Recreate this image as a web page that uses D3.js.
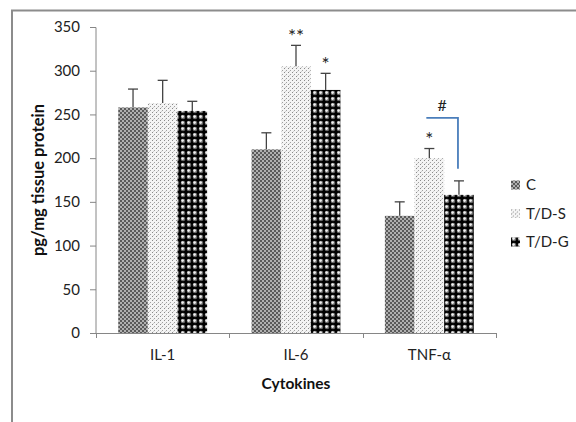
<!DOCTYPE html>
<html><head><meta charset="utf-8">
<script src="https://cdn.jsdelivr.net/npm/d3@7"></script>
<style>body{margin:0;background:#fff}svg{display:block}text{font-family:Lato,"Open Sans",sans-serif}</style>
</head><body><svg id="c" width="576" height="422"></svg>
<script>
const categories = ["IL-1", "IL-6", "TNF-α"];
const seriesNames = ["C", "T/D-S", "T/D-G"];
const valuesC   = [258, 210, 134];
const errorsC   = [21, 19, 16];
const valuesTDS = [263, 305, 200];
const errorsTDS = [26, 24, 11];
const valuesTDG = [254, 278, 158];
const errorsTDG = [11, 19, 16];
const yTicks = [0, 50, 100, 150, 200, 250, 300, 350];
const stars = [
  {cat: "IL-6", s: "T/D-S", text: "**"},
  {cat: "IL-6", s: "T/D-G", text: "*"},
  {cat: "TNF-α", s: "T/D-S", text: "*"}
];
const bracket = {cat: "TNF-α", from: "T/D-S", to: "T/D-G", level: 246, label: "#"};

const seriesVals = {"C": valuesC, "T/D-S": valuesTDS, "T/D-G": valuesTDG};
const seriesErr = {"C": errorsC, "T/D-S": errorsTDS, "T/D-G": errorsTDG};

const svg = d3.select("#c");
const defs = svg.append("defs");
const pC = defs.append("pattern").attr("id","pC").attr("patternUnits","userSpaceOnUse").attr("width",4).attr("height",4);
pC.append("rect").attr("width",4).attr("height",4).attr("fill","#b0b0b0");
pC.append("rect").attr("width",2).attr("height",2).attr("fill","#5a5a5a");
pC.append("rect").attr("x",2).attr("y",2).attr("width",2).attr("height",2).attr("fill","#5a5a5a");
const pS = defs.append("pattern").attr("id","pS").attr("patternUnits","userSpaceOnUse").attr("width",4).attr("height",4);
pS.append("rect").attr("width",4).attr("height",4).attr("fill","#f4f4f4");
pS.append("rect").attr("x",0).attr("y",0).attr("width",1).attr("height",1).attr("fill","#8a8a8a");
pS.append("rect").attr("x",2).attr("y",2).attr("width",1).attr("height",1).attr("fill","#a0a0a0");
pS.append("rect").attr("x",1).attr("y",3).attr("width",1).attr("height",1).attr("fill","#d0d0d0");
const pG = defs.append("pattern").attr("id","pG").attr("patternUnits","userSpaceOnUse").attr("width",6).attr("height",6);
pG.append("rect").attr("width",6).attr("height",6).attr("fill","#000");
pG.append("circle").attr("cx",3).attr("cy",3).attr("r",2.3).attr("fill","#6a6a6a");
pG.append("circle").attr("cx",2.6).attr("cy",2.6).attr("r",1.3).attr("fill","#f0f0f0");
const fills = {"C":"url(#pC)","T/D-S":"url(#pS)","T/D-G":"url(#pG)"};

svg.append("rect").attr("x",12).attr("y",10.5).attr("width",600).attr("height",500)
  .attr("fill","none").attr("stroke","#8c8c8c").attr("stroke-width",2);

const x0 = d3.scaleBand().domain(categories).range([96, 496]);
const x1 = d3.scaleBand().domain(seriesNames).range([0, x0.bandwidth()]).paddingInner(0).paddingOuter(0.75);
const y = d3.scaleLinear().domain([0, 350]).range([333, 27]);

const axisColor = "#868686";
const yAxis = svg.append("g").attr("transform","translate(96,0)")
  .call(d3.axisLeft(y).tickValues(yTicks).tickSize(6).tickPadding(10));
yAxis.select(".domain").attr("stroke",axisColor).attr("d","M-6,27.5H0V333");
yAxis.selectAll(".tick line").attr("stroke",axisColor);
yAxis.selectAll("text").attr("font-size",15).attr("fill","#222");

const xAxis = svg.append("g").attr("transform","translate(0,333)")
  .call(d3.axisBottom(x0).tickSize(0).tickPadding(16));
xAxis.select(".domain").attr("stroke",axisColor).attr("d","M96,0.5H496");
xAxis.selectAll("text").attr("font-size",15).attr("fill","#222");
const bounds = [x0.range()[0]].concat(categories.map(c => x0(c) + x0.bandwidth()));
svg.append("g").selectAll("line").data(bounds).join("line")
  .attr("x1", d => Math.round(d)+0.5).attr("x2", d => Math.round(d)+0.5)
  .attr("y1",333).attr("y2",338).attr("stroke",axisColor);

const rows = [];
categories.forEach((c,i) => seriesNames.forEach(s => rows.push({c, s, v: seriesVals[s][i], e: seriesErr[s][i]})));
svg.append("g").selectAll("rect").data(rows).join("rect")
  .attr("x", d => x0(d.c) + x1(d.s)).attr("width", x1.bandwidth())
  .attr("y", d => y(d.v)).attr("height", d => y(0) - y(d.v))
  .attr("fill", d => fills[d.s]);
const eb = svg.append("g").attr("stroke","#444").attr("stroke-width",1.3);
rows.forEach(d => {
  const cx = x0(d.c) + x1(d.s) + x1.bandwidth()/2;
  eb.append("line").attr("x1",cx).attr("x2",cx).attr("y1",y(d.v)).attr("y2",y(d.v+d.e));
  eb.append("line").attr("x1",cx-5).attr("x2",cx+5).attr("y1",y(d.v+d.e)).attr("y2",y(d.v+d.e));
});

stars.forEach(a => {
  const i = categories.indexOf(a.cat);
  const top = y(seriesVals[a.s][i] + seriesErr[a.s][i]);
  svg.append("text").attr("x", x0(a.cat) + x1(a.s) + x1.bandwidth()/2)
    .attr("y", top + 4).attr("text-anchor","middle").attr("font-size",19).attr("fill","#222")
    .attr("dy","-0.35em").text(a.text);
});

{
  const i = categories.indexOf(bracket.cat);
  const xa = x0(bracket.cat) + x1(bracket.from) + x1.bandwidth()/2 - 3;
  const xb = x0(bracket.cat) + x1(bracket.to) + x1.bandwidth()/2 - 1;
  const yl = y(bracket.level);
  const yEnd = y(seriesVals[bracket.to][i] + seriesErr[bracket.to][i]) - 12;
  svg.append("path").attr("d", `M${xa},${yl}H${xb}V${yEnd}`).attr("fill","none")
    .attr("stroke","#4a7ebb").attr("stroke-width",1.8);
  svg.append("text").attr("x",(xa+xb)/2).attr("y", yl - 7).attr("text-anchor","middle")
    .attr("font-size",16).attr("fill","#222").text(bracket.label);
}

svg.append("text").attr("transform","translate(44,180) rotate(-90)").attr("text-anchor","middle")
  .attr("font-size",16.5).attr("font-weight","bold").attr("fill","#111").text("pg/mg tissue protein");
svg.append("text").attr("x",296).attr("y",389).attr("text-anchor","middle")
  .attr("font-size",15.5).attr("font-weight","bold").attr("fill","#111").text("Cytokines");

const legY = d3.scalePoint().domain(seriesNames).range([185, 242]);
const lg = svg.append("g").selectAll("g").data(seriesNames).join("g")
  .attr("transform", d => `translate(511,${legY(d)})`);
lg.append("rect").attr("x",0).attr("y",-4.5).attr("width",9).attr("height",9).attr("fill", d => fills[d]);
lg.append("text").attr("x",15).attr("y",0).attr("dy","0.35em").attr("font-size",15).attr("fill","#222").text(d => d);
</script></body></html>
